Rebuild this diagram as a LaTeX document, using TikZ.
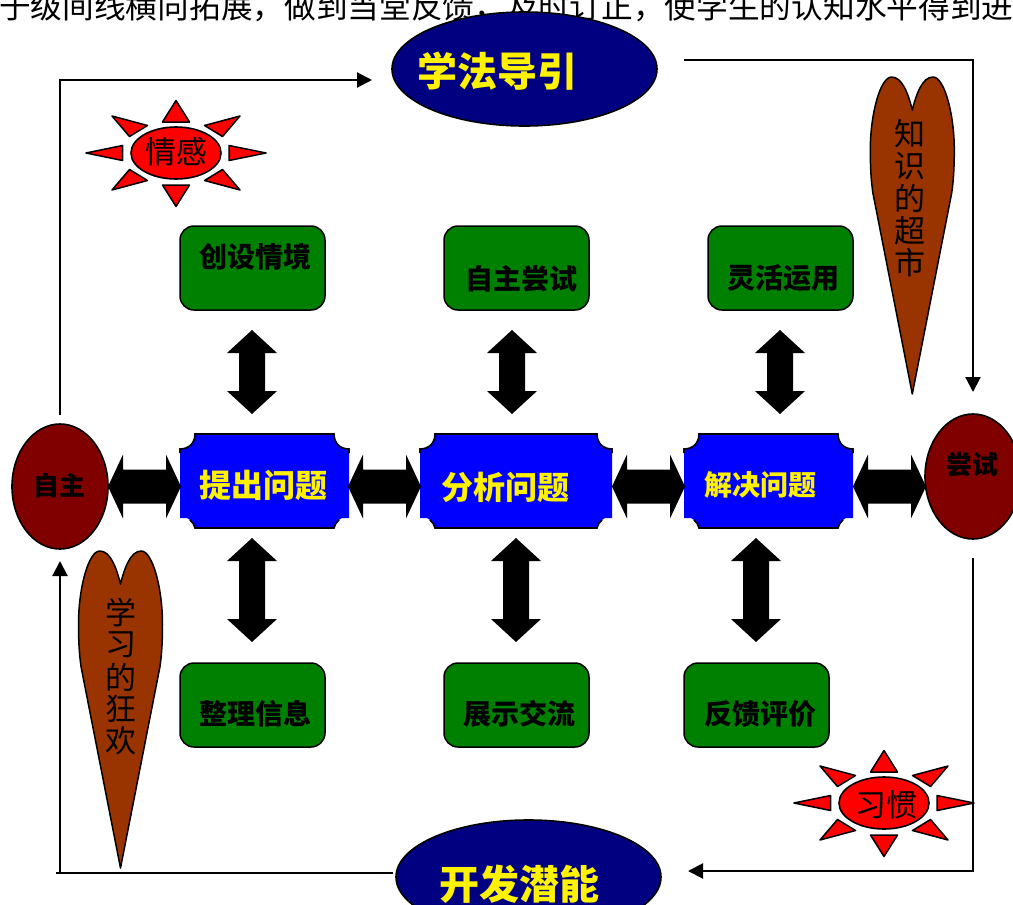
\documentclass[tikz,border=0pt]{standalone}
\usepackage{fontspec}
\setmainfont{Noto Sans CJK SC}
\usetikzlibrary{arrows.meta,shapes.geometric}
\definecolor{navyc}{HTML}{000080}
\definecolor{maroonc}{HTML}{800000}
\definecolor{greenc}{HTML}{008000}
\definecolor{brownc}{HTML}{993300}
\newcommand{\fsz}[1]{\fontsize{#1pt}{#1pt}\selectfont}
% horizontal block double arrow: centre x, centre y
\newcommand{\hblock}[2]{\fill[black] ([shift={(-36.5,0)}]#1,#2) -- ++(15,-32) -- ++(0,15) -- ++(43,0) -- ++(0,-15) -- ++(15,32) -- ++(-15,32) -- ++(0,-15) -- ++(-43,0) -- ++(0,15) -- cycle;}
% vertical block double arrow: centre x, top y, bottom y
\newcommand{\vblock}[3]{\fill[black] (#1,#2) -- ++(25,23) -- ++(-12,0) -- (#1+13,#3-23) -- ++(12,0) -- (#1,#3) -- ++(-25,-23) -- ++(12,0) -- (#1-13,#2+23) -- ++(-12,0) -- cycle;}
% plaque: left, top, right, bottom
\newcommand{\plaque}[4]{%
\fill[blue] (#1,#2+15) .. controls (#1+9,#2+15) and (#1+15,#2+9) .. (#1+15,#2) -- (#3-15,#2) .. controls (#3-15,#2+9) and (#3-9,#2+15) .. (#3,#2+15) -- (#3,#4-10) -- (#3-7,#4-10) .. controls (#3-11,#4-8) and (#3-14,#4-4) .. (#3-15,#4) -- (#1+15,#4) .. controls (#1+14,#4-4) and (#1+11,#4-8) .. (#1+7,#4-10) -- (#1,#4-10) -- cycle;
}
\newcommand{\plaqueb}[4]{%
\draw[line width=1.6pt,black] (#1,#2+19) -- (#1,#2+15) .. controls (#1+9,#2+15) and (#1+15,#2+9) .. (#1+15,#2) -- (#3-15,#2) .. controls (#3-15,#2+9) and (#3-9,#2+15) .. (#3,#2+15) -- (#3,#2+19);
\draw[line width=1.6pt,black] (#1+10,#4-8) .. controls (#1+13,#4-6) and (#1+14,#4-3) .. (#1+15,#4) -- (#3-15,#4) .. controls (#3-14,#4-3) and (#3-13,#4-6) .. (#3-10,#4-8);
}
% sun rays around centre
\newcommand{\sunrays}[2]{\begin{scope}[shift={(#1,#2)},raystyle/.style={draw=black,fill=red,line width=1.5pt,line join=round}]
\draw[raystyle] (0,-52.5) -- (-13.5,-31) -- (13.5,-31) -- cycle;
\draw[raystyle] (0,53.5) -- (-13.5,32) -- (13.5,32) -- cycle;
\draw[raystyle] (-90,0) -- (-53.5,-7.5) -- (-53.5,7.5) -- cycle;
\draw[raystyle] (90,0) -- (53,-7.5) -- (53,7.5) -- cycle;
\draw[raystyle] (-64,-37) -- (-28.5,-27.5) -- (-46.5,-16.5) -- cycle;
\draw[raystyle] (64,-37) -- (28.5,-27.5) -- (46.5,-16.5) -- cycle;
\draw[raystyle] (-64,37) -- (-28.5,27.5) -- (-46.5,16.5) -- cycle;
\draw[raystyle] (64,37) -- (28.5,27.5) -- (46.5,16.5) -- cycle;
\end{scope}}
% heart: tip x, tip y
\newcommand{\longheart}[2]{\draw[draw=black,fill=brownc,line width=1.5pt,line join=round,shift={(#1,#2)}] (0,0) -- (39.4,-201) .. controls (41.5,-215) and (42,-230) .. (42,-244) .. controls (42,-280) and (32,-317) .. (20.7,-317) .. controls (10,-317) and (4,-300) .. (0,-284) .. controls (-4,-300) and (-10,-317) .. (-20.7,-317) .. controls (-32,-317) and (-42,-280) .. (-42,-244) .. controls (-42,-230) and (-41.5,-215) .. (-39.4,-201) -- cycle;}
\tikzset{
  ovalnavy/.style={ellipse,draw=black,fill=navyc,line width=1.6pt,inner sep=0pt},
  ovalred/.style={ellipse,draw=black,fill=maroonc,line width=1.6pt,inner sep=0pt},
  sunoval/.style={ellipse,draw=black,fill=red,line width=1.6pt,inner sep=0pt,minimum width=90pt,minimum height=52pt},
  greenbox/.style={draw=black,fill=greenc,rounded corners=14pt,line width=1.5pt,minimum width=145pt,minimum height=84pt,inner sep=0pt},
  greentext/.style={font=\fsz{28}\bfseries,text=black,inner sep=0pt},
  bluetext/.style={text=yellow,inner sep=0pt},
  looptrack/.style={line width=2.1pt,draw=black},
  looparrow/.style={looptrack,-{Triangle[length=15pt,width=15pt]}},
  vertchar/.style={font=\fsz{31},text=black,inner sep=0pt,align=center},
}
\begin{document}
\begin{tikzpicture}[x=1pt,y=-1pt]
\useasboundingbox (0,0) rectangle (1013,905);
\clip (0,0) rectangle (1013,905);
\fill[white] (0,0) rectangle (1013,905);
\node[anchor=west,inner sep=0pt,font=\fsz{31.7},text=black] (headline) at (-1,7) {于级间线横向拓展，做到当堂反馈，及时订正，使学生的认知水平得到进};

% loop lines
\coordinate (a1) at (60,415); \coordinate (a2) at (60,80); \coordinate (a3) at (372,80);
\coordinate (b1) at (684,60); \coordinate (b2) at (973,60); \coordinate (b3) at (973,392);
\coordinate (c1) at (973,558); \coordinate (c2) at (973,871); \coordinate (c3) at (688,871);
\coordinate (d1) at (393,873); \coordinate (d2) at (56,873); \coordinate (d3) at (60,873); \coordinate (d4) at (60,561);
\draw[looparrow] (a1) -- (a2) -- (a3);
\draw[looparrow] (b1) -- (b2) -- (b3);
\draw[looparrow] (c1) -- (c2) -- (c3);
\draw[looptrack] (d1) -- (d2);
\draw[looparrow] (d3) -- (d4);

% ovals
\node[ovalnavy,minimum width=265pt,minimum height=114pt] (top) at (524.5,69) {};
\node[ovalnavy,minimum width=265pt,minimum height=114pt] (bot) at (528.5,877) {};
\node[bluetext,font=\fsz{40}\bfseries] (toptext) at (497,71) {学法导引};
\node[bluetext,font=\fsz{40}\bfseries] (bottext) at (519,884) {开发潜能};
\node[ovalred,minimum width=96pt,minimum height=125pt] (zizhu) at (60,486.5) {};
\node[ovalred,minimum width=96pt,minimum height=125pt] (changshi) at (973,476.5) {};
\node[font=\fsz{26}\bfseries,inner sep=0pt] (zizhutext) at (60,486) {自主};
\node[font=\fsz{26}\bfseries,inner sep=0pt] (cstext) at (972,465) {尝试};

% suns
\sunrays{176}{153}
\node[sunoval] (sun1) at (176,153) {};
\node[font=\fsz{31},inner sep=0pt] (sun1t) at (176,152) {情感};
\sunrays{884}{803}
\node[sunoval] (sun2) at (884,803) {};
\node[font=\fsz{31},inner sep=0pt] (sun2t) at (886,805) {习惯};

% hearts
\longheart{912.3}{394}
\longheart{120.5}{868}
\node[vertchar] (h1a) at (910,134) {知};
\node[vertchar] (h1b) at (910,166) {识};
\node[vertchar] (h1c) at (910,198) {的};
\node[vertchar] (h1d) at (910,231) {超};
\node[vertchar] (h1e) at (910,263) {市};
\node[vertchar] (h2a) at (121,613) {学};
\node[vertchar] (h2b) at (121,645) {习};
\node[vertchar] (h2c) at (121,677) {的};
\node[vertchar] (h2d) at (121,709) {狂};
\node[vertchar] (h2e) at (121,741) {欢};

% green boxes
\node[greenbox] (g1) at (252.5,268) {};
\node[greenbox] (g2) at (516.5,268) {};
\node[greenbox] (g3) at (780.5,268) {};
\node[greenbox] (g4) at (252.5,705) {};
\node[greenbox] (g5) at (516.5,705) {};
\node[greenbox] (g6) at (756.5,705) {};
\node[greentext] (g1t) at (255,257) {创设情境};
\node[greentext] (g2t) at (521,279) {自主尝试};
\node[greentext] (g3t) at (783,278) {灵活运用};
\node[greentext] (g4t) at (255,714) {整理信息};
\node[greentext] (g5t) at (519,714) {展示交流};
\node[greentext] (g6t) at (760,714) {反馈评价};

% plaques
\plaque{180}{434}{349}{528}
\plaque{420}{434}{612}{528}
\plaque{684}{434}{853}{528}
\plaqueb{180}{434}{349}{528}
\plaqueb{420}{434}{612}{528}
\plaqueb{684}{434}{853}{528}
\node[bluetext,font=\fsz{32}\bfseries] (p1) at (263,485) {提出问题};
\node[bluetext,font=\fsz{32}\bfseries] (p2) at (505,487) {分析问题};
\node[bluetext,font=\fsz{28}\bfseries] (p3) at (760,485) {解决问题};

% block arrows
\hblock{144.5}{486.5}
\hblock{384.5}{486.5}
\hblock{648.5}{486.5}
\hblock{889.5}{486.5}
\vblock{252}{330}{414}
\vblock{512}{330}{414}
\vblock{780}{330}{414}
\vblock{252}{538}{642}
\vblock{516}{538}{642}
\vblock{756}{538}{642}
\end{tikzpicture}
\end{document}
